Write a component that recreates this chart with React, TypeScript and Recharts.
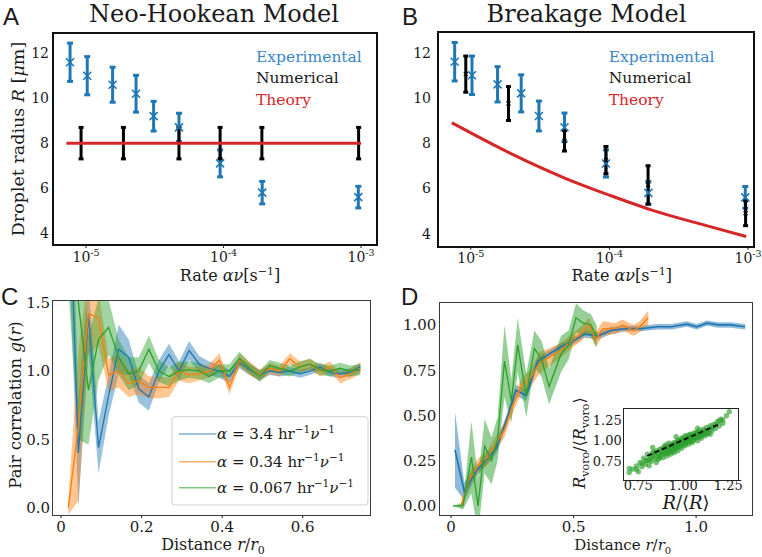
import React from 'react';
import { ComposedChart, Scatter, Line, Area, XAxis, YAxis, ErrorBar } from 'recharts';

const SERIF = '"DejaVu Serif", "Liberation Serif", serif';
const SANS = '"Liberation Sans", Arial, sans-serif';

const BLUE = '#1f77b4';
const ORANGE = '#ff7f0e';
const GREEN = '#2ca02c';
const RED = '#d62728';
const INK = '#1a1a1a';

// ── A / B: droplet radius vs rate ─────────────────────────────
const expRate = [7.65e-6, 1.02e-5, 1.56e-5, 2.31e-5, 3.1e-5, 4.74e-5, 9.44e-5, 1.91e-4, 9.55e-4];
const expRadius = [11.6, 11.0, 10.6, 10.2, 9.2, 8.7, 7.1, 5.8, 5.6];
const expErr = [0.85, 0.85, 0.78, 0.82, 0.66, 0.63, 0.6, 0.5, 0.48];

const numRate = [9.2e-6, 1.87e-5, 4.74e-5, 9.44e-5, 1.9e-4, 9.6e-4];
const numRadiusA = [8, 8, 8, 8, 8, 8];
const numErrA = [0.7, 0.7, 0.7, 0.7, 0.7, 0.7];
const numRadiusB = [11.05, 9.75, 8.1, 7.25, 6.15, 4.9];
const numErrB = [0.8, 0.75, 0.45, 0.6, 0.85, 0.55];

const theoryRateA = [7.2e-6, 1.0e-3];
const theoryRadiusA = [8, 8];
const theoryRateB = [7.3e-6, 1e-5, 2e-5, 5e-5, 1e-4, 2e-4, 5e-4, 9.7e-4];
const theoryRadiusB = [8.9, 8.45, 7.5, 6.4, 5.7, 5.05, 4.35, 3.87];

const rateTicks = [1e-5, 1e-4, 1e-3];
const radiusTicks = [4, 6, 8, 10, 12];

// ── C: pair correlation ───────────────────────────────────────
const distC = [0.018, 0.043, 0.068, 0.093, 0.118, 0.143, 0.168, 0.193, 0.218, 0.243, 0.268, 0.293, 0.318, 0.343, 0.368,
  0.393, 0.418, 0.443, 0.468, 0.493, 0.518, 0.543, 0.568, 0.593, 0.618, 0.643, 0.668, 0.693, 0.718, 0.743];
const gBlue = [2.6, 0.4, 1.41, 0.44, 0.82, 1.16, 1.1, 0.87, 0.81, 1.0, 1.12, 1.0, 1.15, 1.05, 1.02,
  1.0, 0.96, 1.06, 1.01, 0.97, 1.0, 0.99, 1.0, 0.98, 1.0, 1.03, 0.99, 0.98, 0.99, 1.03];
const eBlue = [0.6, 0.4, 0.25, 0.19, 0.15, 0.18, 0.13, 0.1, 0.1, 0.08, 0.08, 0.07, 0.07, 0.06, 0.05,
  0.05, 0.05, 0.04, 0.04, 0.04, 0.03, 0.03, 0.03, 0.03, 0.03, 0.03, 0.03, 0.03, 0.03, 0.03];
const gOrange = [0.0, 0.6, 1.42, 1.39, 0.97, 1.0, 0.91, 0.93, 0.88, 0.88, 0.88, 1.0, 0.97, 0.98, 1.0,
  1.08, 0.88, 1.08, 1.02, 0.97, 1.02, 1.0, 1.09, 1.03, 1.05, 1.0, 1.03, 0.95, 0.98, 1.02];
const eOrange = [0.05, 0.55, 0.3, 0.2, 0.12, 0.12, 0.1, 0.1, 0.08, 0.08, 0.07, 0.07, 0.06, 0.05, 0.05,
  0.05, 0.05, 0.05, 0.05, 0.04, 0.04, 0.04, 0.04, 0.04, 0.04, 0.04, 0.04, 0.04, 0.04, 0.04];
const gGreen = [2.4, 1.5, 0.86, 1.23, 1.32, 1.1, 0.98, 1.0, 1.16, 1.0, 0.96, 1.0, 1.01, 1.0, 0.96,
  1.0, 1.0, 1.09, 1.02, 0.96, 1.04, 1.02, 1.0, 1.03, 1.05, 1.01, 1.0, 1.02, 1.0, 1.01];
const eGreen = [0.8, 1.0, 0.4, 0.3, 0.2, 0.13, 0.12, 0.1, 0.1, 0.08, 0.07, 0.07, 0.06, 0.06, 0.05,
  0.05, 0.05, 0.05, 0.04, 0.04, 0.04, 0.04, 0.04, 0.04, 0.04, 0.04, 0.04, 0.04, 0.04, 0.04];

// ── D: cumulative curves ──────────────────────────────────────
const distDBlue = [0.016, 0.054, 0.1, 0.14, 0.185, 0.225, 0.265, 0.306, 0.354, 0.4, 0.449, 0.497, 0.544, 0.6,
  0.653, 0.714, 0.776, 0.844, 0.9, 0.962, 1.003, 1.044, 1.09, 1.14, 1.2];
const valDBlue = [0.31, 0.08, 0.19, 0.25, 0.32, 0.47, 0.64, 0.61, 0.8, 0.84, 0.88, 0.91, 0.95, 0.94,
  0.97, 0.98, 0.98, 0.99, 0.99, 1.005, 0.99, 1.01, 1.0, 1.0, 0.99];
const errDBlue = [0.21, 0.05, 0.03, 0.03, 0.03, 0.03, 0.03, 0.03, 0.025, 0.02, 0.02, 0.02, 0.02, 0.02,
  0.02, 0.015, 0.015, 0.015, 0.015, 0.015, 0.015, 0.015, 0.015, 0.015, 0.015];
const distDOrange = [0.041, 0.071, 0.109, 0.15, 0.19, 0.218, 0.25, 0.286, 0.327, 0.36, 0.4, 0.449, 0.49, 0.53,
  0.563, 0.59, 0.62, 0.67, 0.7, 0.744, 0.77, 0.805];
const valDOrange = [0.0, 0.14, 0.22, 0.27, 0.36, 0.42, 0.55, 0.66, 0.71, 0.79, 0.82, 0.86, 0.91, 0.95,
  1.0, 0.92, 0.98, 0.98, 1.0, 0.97, 0.99, 1.04];
const errDOrange = [0.02, 0.04, 0.04, 0.04, 0.04, 0.04, 0.04, 0.04, 0.05, 0.06, 0.05, 0.04, 0.04, 0.04,
  0.04, 0.04, 0.04, 0.03, 0.03, 0.03, 0.03, 0.04];
const distDGreen = [0.008, 0.049, 0.083, 0.11, 0.137, 0.165, 0.19, 0.218, 0.246, 0.272, 0.307, 0.34, 0.37,
  0.4, 0.449, 0.48, 0.51, 0.54, 0.57, 0.595];
const valDGreen = [0.0, 0.0, 0.27, 0.0, 0.33, 0.25, 0.37, 0.8, 0.58, 0.89, 0.61, 0.87, 0.81, 0.66, 0.84,
  0.89, 1.04, 1.01, 1.0, 0.935];
const errDGreen = [0.0, 0.02, 0.2, 0.15, 0.15, 0.13, 0.12, 0.2, 0.12, 0.15, 0.12, 0.1, 0.1, 0.1, 0.1,
  0.08, 0.08, 0.07, 0.06, 0.06];

// ── D inset: Voronoi radius vs droplet radius ─────────────────
const insetR = [0.7, 0.72, 0.74, 0.75, 0.76, 0.77, 0.78, 0.79, 0.8, 0.8, 0.81, 0.82, 0.82, 0.83, 0.84, 0.84,
  0.85, 0.85, 0.86, 0.86, 0.87, 0.87, 0.88, 0.88, 0.89, 0.89, 0.9, 0.9, 0.9, 0.91, 0.91, 0.92, 0.92, 0.92,
  0.93, 0.93, 0.94, 0.94, 0.95, 0.95, 0.95, 0.96, 0.96, 0.97, 0.97, 0.97, 0.98, 0.98, 0.99, 0.99, 1.0, 1.0,
  1.0, 1.01, 1.01, 1.02, 1.02, 1.03, 1.03, 1.04, 1.04, 1.05, 1.05, 1.06, 1.06, 1.07, 1.07, 1.08, 1.08, 1.09,
  1.09, 1.1, 1.1, 1.11, 1.11, 1.12, 1.12, 1.13, 1.14, 1.14, 1.15, 1.16, 1.17, 1.18, 1.19, 1.2, 1.21, 1.22,
  1.24, 1.256, 0.7, 0.83, 0.96, 1.08, 1.15,
  0.88, 0.89, 0.9, 0.91, 0.92, 0.93, 0.93, 0.94, 0.94, 0.95, 0.96, 0.96, 0.97, 0.98, 0.98, 0.99, 0.99, 1.0,
  1.0, 1.01, 1.01, 1.02, 1.02, 1.03, 1.03, 1.04, 1.04, 1.05, 1.05, 1.06, 1.06, 1.07, 1.08, 1.08, 1.09, 1.1,
  1.1, 1.11, 1.12, 1.13, 1.15, 1.16, 1.18, 0.84, 0.86, 0.87, 0.83, 0.81, 0.79, 0.77, 0.74, 1.2, 1.22, 1.13,
  0.97, 0.91];
const insetRvoro = [0.62, 0.66, 0.7, 0.63, 0.74, 0.69, 0.79, 0.72, 0.77, 0.84, 0.7, 0.8, 0.75, 0.86, 0.78, 0.83,
  0.74, 0.88, 0.81, 0.85, 0.79, 0.9, 0.83, 0.87, 0.8, 0.92, 0.85, 0.89, 0.95, 0.82, 0.88, 0.86, 0.91, 0.97,
  0.84, 0.89, 0.93, 0.87, 0.91, 0.98, 0.86, 0.94, 0.9, 0.96, 0.88, 1.01, 0.93, 0.97, 0.91, 1.0, 0.95, 1.03,
  0.99, 0.94, 1.06, 0.98, 1.02, 0.96, 1.05, 1.0, 1.08, 0.98, 1.03, 1.06, 1.01, 1.1, 1.04, 1.0, 1.07, 1.12,
  1.05, 1.08, 1.03, 1.14, 1.1, 1.06, 1.12, 1.16, 1.09, 1.13, 1.18, 1.12, 1.2, 1.15, 1.23, 1.18, 1.26, 1.21,
  1.3, 1.35, 0.67, 0.92, 1.05, 1.15, 1.08,
  0.9, 0.86, 0.92, 0.85, 0.88, 0.94, 0.92, 0.96, 0.9, 0.95, 0.97, 0.92, 0.93, 1.0, 0.95, 0.97, 1.03, 0.97,
  1.01, 1.0, 0.97, 1.05, 0.99, 1.02, 1.07, 1.03, 0.99, 1.07, 1.01, 1.04, 1.09, 1.06, 1.1, 1.04, 1.08, 1.11,
  1.06, 1.08, 1.09, 1.12, 1.14, 1.16, 1.19, 0.86, 0.78, 0.83, 0.81, 0.77, 0.76, 0.73, 0.66, 1.24, 1.25, 1.08,
  0.99, 0.94];
const fitR = [0.8, 1.2];
const fitRvoro = [0.82, 1.2];

// ── table builders ────────────────────────────────────────────
const expData = expRate.map((rate, i) => ({ rate, r: expRadius[i], err: expErr[i] }));
const numDataA = numRate.map((rate, i) => ({ rate, r: numRadiusA[i], err: numErrA[i] }));
const numDataB = numRate.map((rate, i) => ({ rate, r: numRadiusB[i], err: numErrB[i] }));
const theoryA = theoryRateA.map((rate, i) => ({ rate, r: theoryRadiusA[i] }));
const theoryB = theoryRateB.map((rate, i) => ({ rate, r: theoryRadiusB[i] }));

const band = (v: number, e: number) => [v - e, v + e];
const corrData = distC.map((x, i) => ({
  x,
  b: gBlue[i], bBand: band(gBlue[i], eBlue[i]),
  o: gOrange[i], oBand: band(gOrange[i], eOrange[i]),
  g: gGreen[i], gBand: band(gGreen[i], eGreen[i]),
}));
const dBlue = distDBlue.map((x, i) => ({ x, y: valDBlue[i], band: band(valDBlue[i], errDBlue[i]) }));
const dOrange = distDOrange.map((x, i) => ({ x, y: valDOrange[i], band: band(valDOrange[i], errDOrange[i]) }));
const dGreen = distDGreen.map((x, i) => ({ x, y: valDGreen[i], band: band(valDGreen[i], errDGreen[i]) }));
const insetData = insetR.map((x, i) => ({ x, y: insetRvoro[i] }));
const fitData = fitR.map((x, i) => ({ x, y: fitRvoro[i] }));

// ── small pieces ──────────────────────────────────────────────
const cross = (color: string, s: number, sw: number) => (p: any) => {
  if (p.cx == null || p.cy == null) return <g />;
  return (
    <path
      d={`M${p.cx - s},${p.cy - s}L${p.cx + s},${p.cy + s}M${p.cx - s},${p.cy + s}L${p.cx + s},${p.cy - s}`}
      stroke={color} strokeWidth={sw} fill="none"
    />
  );
};
const noMark = () => <g />;

function PowTick({ x, y, payload }: any) {
  const exp = Math.round(Math.log10(payload.value));
  return (
    <text x={x} y={y + 11.5} textAnchor="middle" fontFamily={SERIF} fontSize={14} fill={INK}>
      <tspan>10</tspan>
      <tspan dy={-6} fontSize={9.5}>{`-${-exp}`}</tspan>
    </text>
  );
}

function Frame({ left, top, width, height, w, color }: any) {
  return (
    <div style={{
      position: 'absolute', left: left - w / 2, top: top - w / 2, width: width + w, height: height + w,
      border: `${w}px solid ${color}`, boxSizing: 'border-box', pointerEvents: 'none',
    }} />
  );
}

const tickStyle = (size: number) => ({ fontSize: size, fill: INK, fontFamily: SERIF });
const decimals = (n: number) => (v: number) => (v === 0 && n === 1 ? '0' : v.toFixed(n));

function RatePanel({ left, margin, xDomain, yDomain, yTickMargin, numData, theory, numMark }: any) {
  return (
    <div style={{ position: 'absolute', left, top: 0 }}>
      <ComposedChart width={381} height={280} margin={margin}>
        <XAxis
          dataKey="rate" type="number" scale="log" domain={xDomain} allowDataOverflow
          ticks={rateTicks} interval={0} height={30} axisLine={false}
          tickSize={3} tickMargin={2} tickLine={{ stroke: INK }}
          tick={(p: any) => <PowTick {...p} />}
        />
        <YAxis
          type="number" domain={yDomain} allowDataOverflow ticks={radiusTicks} interval={0}
          width={45} axisLine={false} tickLine={false} tickSize={3} tickMargin={yTickMargin}
          tick={tickStyle(14)}
        />
        <Scatter data={expData} dataKey="r" shape={cross(BLUE, 4, 1.6)} isAnimationActive={false}>
          <ErrorBar dataKey="err" direction="y" width={3} strokeWidth={3} stroke={BLUE} />
        </Scatter>
        <Scatter data={numData} dataKey="r" shape={numMark} isAnimationActive={false}>
          <ErrorBar dataKey="err" direction="y" width={2.5} strokeWidth={3} stroke="#000" />
        </Scatter>
        <Line
          data={theory} dataKey="r" type="monotone" stroke={RED} strokeWidth={3} dot={false}
          isAnimationActive={false} zIndex={700}
        />
      </ComposedChart>
    </div>
  );
}

function CorrelationPanel() {
  return (
    <div style={{ position: 'absolute', left: 0, top: 280 }}>
      <ComposedChart width={381} height={277} data={corrData} margin={{ top: 21, right: 11, bottom: 12, left: 8 }}>
        <XAxis
          dataKey="x" type="number" domain={[-0.02, 0.767]} allowDataOverflow ticks={[0, 0.2, 0.4, 0.6]}
          interval={0} height={30} axisLine={false} tickSize={3} tickMargin={3}
          tickLine={{ stroke: INK }} tick={tickStyle(15)} tickFormatter={decimals(1)}
        />
        <YAxis
          type="number" domain={[-0.053, 1.512]} allowDataOverflow ticks={[0, 0.5, 1.0, 1.5]} interval={0}
          width={45} axisLine={false} tickLine={false} tickSize={3} tickMargin={0}
          tick={tickStyle(15)} tickFormatter={(v: number) => v.toFixed(1)}
        />
        <Area dataKey="bBand" type="linear" stroke="none" fill={BLUE} fillOpacity={0.45} isAnimationActive={false} />
        <Area dataKey="oBand" type="linear" stroke="none" fill={ORANGE} fillOpacity={0.45} isAnimationActive={false} />
        <Area dataKey="gBand" type="linear" stroke="none" fill={GREEN} fillOpacity={0.45} isAnimationActive={false} />
        <Line dataKey="b" type="linear" stroke={BLUE} strokeWidth={1.3} dot={false} isAnimationActive={false} />
        <Line dataKey="o" type="linear" stroke={ORANGE} strokeWidth={1.3} dot={false} isAnimationActive={false} />
        <Line dataKey="g" type="linear" stroke={GREEN} strokeWidth={1.3} dot={false} isAnimationActive={false} />
      </ComposedChart>
    </div>
  );
}

function CumulativePanel() {
  const series = [
    { data: dBlue, color: BLUE, w: 1.7 },
    { data: dOrange, color: ORANGE, w: 1.3 },
    { data: dGreen, color: GREEN, w: 1.3 },
  ];
  return (
    <div style={{ position: 'absolute', left: 381, top: 280 }}>
      <ComposedChart width={381} height={277} margin={{ top: 22.7, right: 9.3, bottom: 12, left: 8.3 }}>
        <XAxis
          dataKey="x" type="number" domain={[-0.048, 1.231]} allowDataOverflow ticks={[0, 0.5, 1.0]}
          interval={0} height={30} axisLine={false} tickSize={3} tickMargin={3}
          tickLine={{ stroke: INK }} tick={tickStyle(15)} tickFormatter={decimals(1)}
        />
        <YAxis
          type="number" domain={[-0.05, 1.123]} allowDataOverflow ticks={[0, 0.25, 0.5, 0.75, 1.0]} interval={0}
          width={50} axisLine={false} tickLine={false} tickSize={3} tickMargin={0}
          tick={tickStyle(15)} tickFormatter={(v: number) => v.toFixed(2)}
        />
        {series.map((s, i) => (
          <Area key={`a${i}`} data={s.data} dataKey="band" type="linear" stroke="none" fill={s.color}
            fillOpacity={0.5} isAnimationActive={false} />
        ))}
        {series.map((s, i) => (
          <Line key={`l${i}`} data={s.data} dataKey="y" type="linear" stroke={s.color} strokeWidth={s.w}
            dot={false} isAnimationActive={false} />
        ))}
      </ComposedChart>
    </div>
  );
}

function InsetPanel() {
  return (
    <>
      <div style={{ position: 'absolute', left: 623.7, top: 408.3, width: 114.6, height: 71.7, background: '#fff' }} />
      <div style={{ position: 'absolute', left: 580, top: 395 }}>
        <ComposedChart width={165} height={120} margin={{ top: 13.3, right: 6.7, bottom: 15, left: 8.7 }}>
          <XAxis
            dataKey="x" type="number" domain={[0.669, 1.306]} allowDataOverflow ticks={[0.75, 1.0, 1.25]}
            interval={0} height={20} axisLine={false} tickLine={false} tickSize={1} tickMargin={0}
            tick={tickStyle(13)} tickFormatter={(v: number) => v.toFixed(2)}
          />
          <YAxis
            type="number" domain={[0.53, 1.39]} allowDataOverflow ticks={[0.75, 1.0, 1.25]} interval={0}
            width={35} axisLine={false} tickLine={false} tickSize={2} tickMargin={0}
            tick={tickStyle(13)} tickFormatter={(v: number) => v.toFixed(2)}
          />
          <Scatter
            data={insetData} dataKey="y" isAnimationActive={false}
            shape={(p: any) => <circle cx={p.cx} cy={p.cy} r={2.7} fill={GREEN} fillOpacity={0.65} />}
          />
          <Line
            data={fitData} dataKey="y" type="linear" stroke="#000" strokeWidth={1.8} strokeDasharray="5 3"
            dot={false} isAnimationActive={false} zIndex={700}
          />
        </ComposedChart>
      </div>
    </>
  );
}

const sup = (s: string, size: number, up: number) => (
  <tspan dy={-up} fontSize={size}>{s}</tspan>
);

export default function App() {
  const legendRows = [
    { color: BLUE, value: '3.4', y: 434 },
    { color: ORANGE, value: '0.34', y: 461.7 },
    { color: GREEN, value: '0.067', y: 487.7 },
  ];
  return (
    <div style={{ position: 'absolute', left: 0, top: 0, width: 762, height: 557, background: '#fff', overflow: 'hidden' }}>
      <RatePanel
        left={0} margin={{ top: 33, right: 4, bottom: 5, left: 8 }}
        xDomain={[5.75e-6, 1.306e-3]} yDomain={[3.47, 12.9]} yTickMargin={1}
        numData={numDataA} theory={theoryA} numMark={noMark}
      />
      <RatePanel
        left={381} margin={{ top: 32.3, right: 8, bottom: 3.3, left: 12 }}
        xDomain={[5.8e-6, 1.104e-3]} yDomain={[3.42, 12.9]} yTickMargin={4}
        numData={numDataB} theory={theoryB} numMark={cross('#000', 2, 1.2)}
      />
      <CorrelationPanel />
      <CumulativePanel />
      <InsetPanel />

      <Frame left={53} top={33} width={324} height={212} w={2} color="#111" />
      <Frame left={438} top={32.3} width={316} height={214.4} w={2} color="#111" />
      <Frame left={53} top={301} width={317} height={214} w={1.4} color="#3a3a3a" />
      <Frame left={439.3} top={302.7} width={313.4} height={212.3} w={1.4} color="#3a3a3a" />
      <Frame left={623.7} top={408.3} width={114.6} height={71.7} w={1.4} color="#222" />

      <svg width={762} height={557} style={{ position: 'absolute', left: 0, top: 0, pointerEvents: 'none' }}
        fontFamily={SERIF} fill={INK}>
        {/* panel letters */}
        <text x={3} y={25} fontFamily={SANS} fontSize={24}>A</text>
        <text x={402} y={25} fontFamily={SANS} fontSize={24}>B</text>
        <text x={1} y={305} fontFamily={SANS} fontSize={24}>C</text>
        <text x={401} y={305} fontFamily={SANS} fontSize={24}>D</text>

        {/* titles */}
        <text x={214} y={22} fontSize={24} textAnchor="middle">Neo-Hookean Model</text>
        <text x={586.5} y={22} fontSize={24} textAnchor="middle">Breakage Model</text>

        {/* A/B legends */}
        {[256, 608.7].map((lx) => (
          <g key={lx} fontSize={15.5}>
            <text x={lx} y={61.7} fill="#3a86c6">Experimental</text>
            <text x={lx} y={83.3} fill={INK}>Numerical</text>
            <text x={lx} y={105} fill={RED}>Theory</text>
          </g>
        ))}

        {/* A/B axis labels */}
        <text transform="translate(24,139) rotate(-90)" fontSize={17.5} textAnchor="middle">
          Droplet radius <tspan fontStyle="italic">R</tspan> [<tspan fontStyle="italic">μ</tspan>m]
        </text>
        {[230, 621.7].map((cx) => (
          <text key={cx} x={cx} y={280.5} fontSize={16} textAnchor="middle">
            Rate <tspan fontStyle="italic">αν</tspan>[s{sup('−1', 11, 5.5)}<tspan dy={5.5}>]</tspan>
          </text>
        ))}

        {/* C/D axis labels */}
        <text transform="translate(21,405) rotate(-90)" fontSize={16.5} textAnchor="middle">
          Pair correlation <tspan fontStyle="italic">g</tspan>(<tspan fontStyle="italic">r</tspan>)
        </text>
        <text x={213} y={549.5} fontSize={16} textAnchor="middle">
          Distance <tspan fontStyle="italic">r</tspan>/<tspan fontStyle="italic">r</tspan>
          <tspan dy={4} fontSize={11}>0</tspan>
        </text>
        <text x={622.7} y={549.5} fontSize={15} textAnchor="middle">
          Distance <tspan fontStyle="italic">r</tspan>/<tspan fontStyle="italic">r</tspan>
          <tspan dy={4} fontSize={10}>0</tspan>
        </text>

        {/* C legend */}
        <rect x={172} y={416.7} width={196} height={88.3} rx={3} fill="#fff" fillOpacity={0.85} stroke="#cfcfcf" strokeWidth={1} />
        {legendRows.map((row) => (
          <g key={row.value}>
            <line x1={179} x2={216} y1={row.y} y2={row.y} stroke={row.color} strokeWidth={1.6} strokeOpacity={0.6} />
            <text x={217} y={row.y + 5} fontSize={15}>
              <tspan fontStyle="italic">α</tspan> = {row.value} hr{sup('−1', 10.5, 6)}
              <tspan dy={6} fontStyle="italic">ν</tspan>{sup('−1', 10.5, 6)}
            </text>
          </g>
        ))}

        {/* inset labels */}
        <text x={686} y={509} fontSize={18} textAnchor="middle">
          <tspan fontStyle="italic">R</tspan>/⟨<tspan fontStyle="italic">R</tspan>⟩
        </text>
        <text transform="translate(585,443) rotate(-90)" fontSize={16} textAnchor="middle">
          <tspan fontStyle="italic">R</tspan><tspan dy={4} fontSize={11}>voro</tspan>
          <tspan dy={-4}>/⟨</tspan><tspan fontStyle="italic">R</tspan><tspan dy={4} fontSize={11}>voro</tspan>
          <tspan dy={-4}>⟩</tspan>
        </text>
      </svg>
    </div>
  );
}
